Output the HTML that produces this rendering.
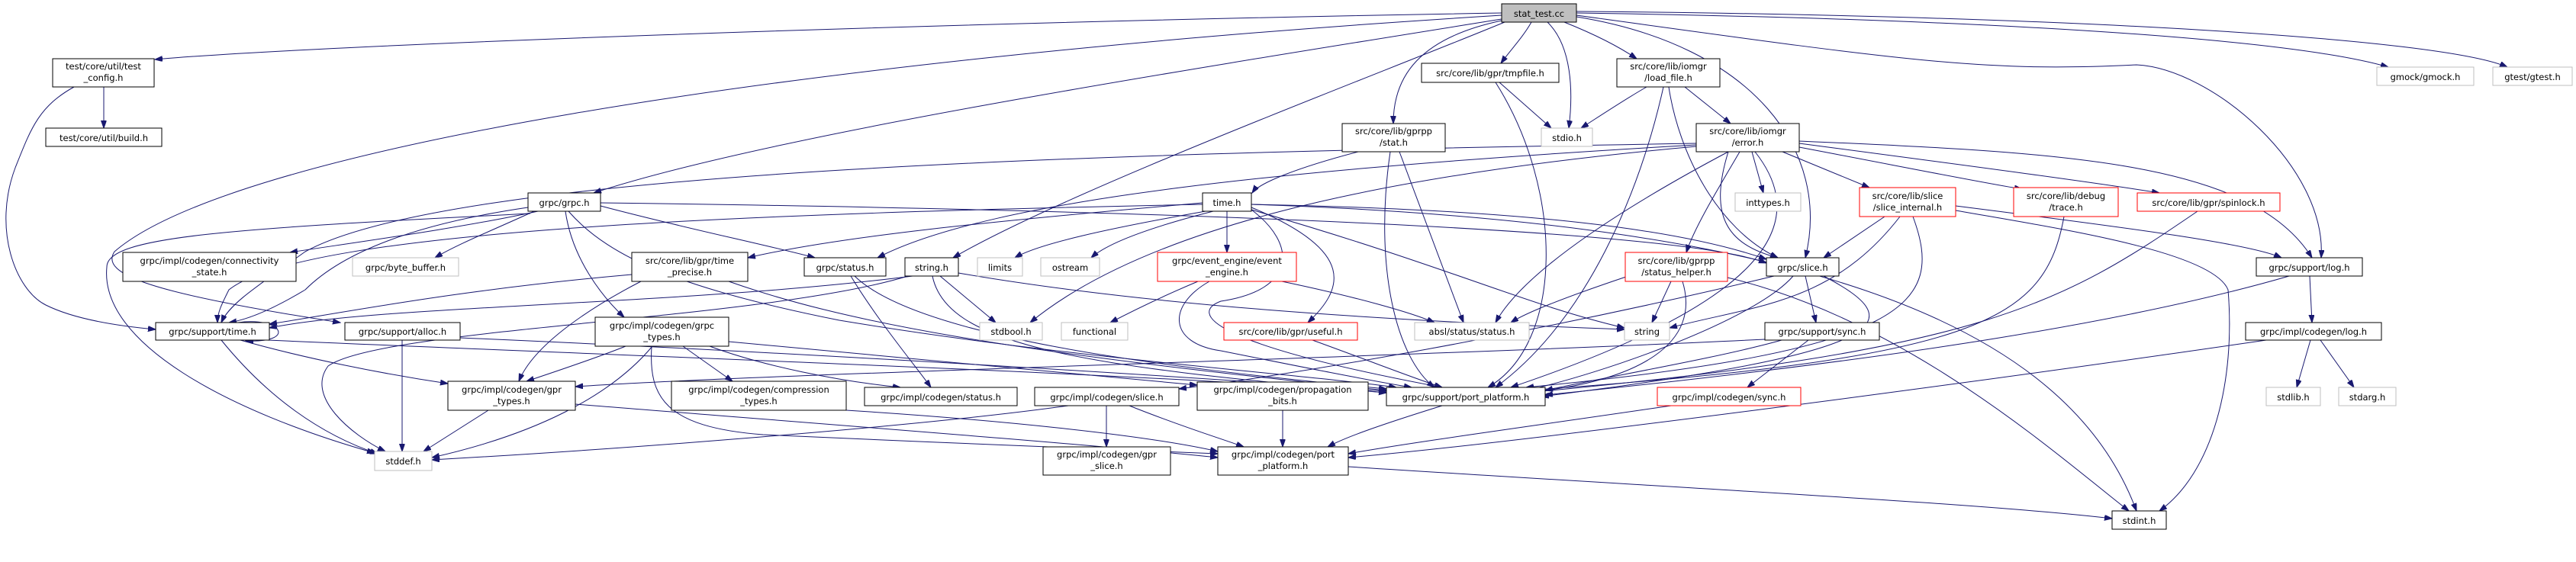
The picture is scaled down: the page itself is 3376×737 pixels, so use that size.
<!DOCTYPE html>
<html><head><meta charset="utf-8"><style>
html,body{margin:0;padding:0;background:#fff;}
svg{display:block;}
text{font-family:"DejaVu Sans","Liberation Sans",sans-serif;font-size:11.5px;fill:#000;text-anchor:middle;}
.n{fill:#fff;stroke:#000;stroke-width:1;}
.g{fill:#fff;stroke:#bfbfbf;stroke-width:1;}
.r{fill:#fff;stroke:#ff0000;stroke-width:1;}
.e{fill:none;stroke:#191970;stroke-width:1;marker-end:url(#a);}
</style></head><body>
<svg width="3376" height="737" viewBox="0 0 3376 737" xmlns="http://www.w3.org/2000/svg">
<defs><marker id="a" markerUnits="userSpaceOnUse" markerWidth="11" markerHeight="8" refX="10" refY="3.5" orient="auto"><path d="M0,0 L10,3.5 L0,7 Z" fill="#191970" stroke="#191970"/></marker></defs>
<g>
<path class="e" d="M1968,17 C1200,30 400,60 203,78"/>
<path class="e" d="M1968,25 C1500,100 1000,180 778,253"/>
<path class="e" d="M1972,29 C1800,100 1400,250 1249,338"/>
<path class="e" d="M1968,20 C1000,80 300,200 150,330 C130,360 200,385 446,423"/>
<path class="e" d="M2007,29 C1995,50 1980,65 1967,83"/>
<path class="e" d="M1968,27 C1860,50 1826,100 1826,162"/>
<path class="e" d="M2028,29 C2060,60 2062,120 2056,168"/>
<path class="e" d="M2050,29 C2090,45 2120,60 2145,77"/>
<path class="e" d="M2066,22 C2300,60 2400,200 2366,338"/>
<path class="e" d="M2066,20 C2500,80 2600,95 2800,85 C2900,90 3050,220 3042,338"/>
<path class="e" d="M2066,17 C2600,25 3000,50 3130,88"/>
<path class="e" d="M2066,15 C2700,20 3200,50 3286,88"/>
<path class="e" d="M136,114 L136,168"/>
<path class="e" d="M97,114 C50,140 40,170 20,220 C-10,300 20,380 60,400 C100,420 160,428 204,432"/>
<path class="e" d="M705,277 C600,300 450,320 380,331"/>
<path class="e" d="M700,277 C650,300 600,320 570,338"/>
<path class="e" d="M692,272 C500,300 430,350 400,380 C350,410 320,420 300,423"/>
<path class="e" d="M741,277 C750,340 790,390 818,416"/>
<path class="e" d="M787,270 C900,300 1000,320 1068,338"/>
<path class="e" d="M787,266 C1500,275 2200,300 2315,345"/>
<path class="e" d="M695,280 C300,300 140,310 140,350 C130,450 300,540 491,594"/>
<path class="e" d="M745,277 C800,340 900,380 1100,420 C1400,470 1700,490 1830,508"/>
<path class="e" d="M312,423 C370,415 390,450 322,447"/>
<path class="e" d="M290,446 C350,520 420,570 495,595"/>
<path class="e" d="M315,446 C400,470 500,490 587,503"/>
<path class="e" d="M350,446 C900,470 1500,490 1817,515"/>
<path class="e" d="M527,446 L527,592"/>
<path class="e" d="M603,443 C1000,460 1500,490 1817,513"/>
<path class="e" d="M640,538 L555,592"/>
<path class="e" d="M754,530 C1000,550 1400,580 1596,600"/>
<path class="e" d="M828,360 C600,380 450,410 353,425"/>
<path class="e" d="M840,369 C780,400 700,450 680,500"/>
<path class="e" d="M955,369 C1100,420 1300,460 1817,512"/>
<path class="e" d="M1115,362 C1150,420 1200,480 1220,508"/>
<path class="e" d="M1120,362 C1200,440 1500,480 1817,510"/>
<path class="e" d="M1232,362 L1305,423"/>
<path class="e" d="M1256,358 C1500,400 1800,420 2129,432"/>
<path class="e" d="M1222,362 C1240,450 1400,480 1817,515"/>
<path class="e" d="M1196,362 C900,400 500,400 353,430"/>
<path class="e" d="M1190,362 C1000,420 500,430 430,480 C400,520 460,570 505,592"/>
<path class="e" d="M820,454 C780,470 720,490 690,500"/>
<path class="e" d="M895,454 L960,500"/>
<path class="e" d="M930,454 C1000,480 1100,500 1180,508"/>
<path class="e" d="M855,454 C800,520 700,570 566,600"/>
<path class="e" d="M854,454 C850,520 870,560 1000,570 C1200,580 1500,590 1596,595"/>
<path class="e" d="M955,448 C1200,470 1400,490 1569,505"/>
<path class="e" d="M1109,538 C1300,550 1500,570 1596,592"/>
<path class="e" d="M1400,532 C1200,560 800,590 566,603"/>
<path class="e" d="M1450,532 L1450,586"/>
<path class="e" d="M1480,532 C1550,560 1600,575 1630,586"/>
<path class="e" d="M1681,538 L1681,586"/>
<path class="e" d="M1890,532 C1800,560 1760,575 1740,586"/>
<path class="e" d="M1767,612 C2200,640 2600,660 2768,680"/>
<path class="e" d="M1965,108 L2033,168"/>
<path class="e" d="M1960,108 C2050,250 2050,450 1950,508"/>
<path class="e" d="M1780,199 C1700,220 1650,240 1641,253"/>
<path class="e" d="M1834,199 L1918,423"/>
<path class="e" d="M1822,199 C1800,350 1830,470 1880,508"/>
<path class="e" d="M1576,266 C1300,290 1100,310 980,338"/>
<path class="e" d="M1576,268 C1000,280 400,300 300,380 C290,400 285,410 285,423"/>
<path class="e" d="M1580,277 C1450,300 1360,320 1330,338"/>
<path class="e" d="M1590,277 C1500,300 1450,320 1430,338"/>
<path class="e" d="M1608,277 L1608,331"/>
<path class="e" d="M1640,272 C1780,330 1760,380 1714,423"/>
<path class="e" d="M1640,275 C1900,350 2000,400 2129,430"/>
<path class="e" d="M1640,275 C1700,320 1700,380 1600,395 C1560,410 1580,450 1890,508"/>
<path class="e" d="M1640,268 C2300,290 2700,400 2800,670"/>
<path class="e" d="M1640,268 C2000,275 2200,300 2315,340"/>
<path class="e" d="M1570,369 C1520,390 1480,410 1455,423"/>
<path class="e" d="M1680,369 C1780,390 1850,410 1880,423"/>
<path class="e" d="M1585,369 C1530,400 1530,450 1600,460 C1700,480 1800,500 1850,508"/>
<path class="e" d="M1720,446 C1800,475 1850,495 1890,508"/>
<path class="e" d="M2158,114 C2130,130 2100,150 2072,168"/>
<path class="e" d="M2208,114 L2268,162"/>
<path class="e" d="M2187,114 C2200,200 2250,300 2330,338"/>
<path class="e" d="M2180,114 C2150,250 2080,420 1960,508"/>
<path class="e" d="M2296,199 L2311,253"/>
<path class="e" d="M2336,199 L2450,246"/>
<path class="e" d="M2358,193 C2500,220 2600,240 2650,248"/>
<path class="e" d="M2358,188 C2600,220 2750,240 2830,253"/>
<path class="e" d="M2280,199 C2250,250 2220,300 2210,331"/>
<path class="e" d="M2265,199 C2240,280 2260,320 2330,338"/>
<path class="e" d="M2358,185 C2700,200 2950,210 3030,338"/>
<path class="e" d="M2265,199 C2150,260 2000,350 1960,423"/>
<path class="e" d="M2223,190 C1700,220 1300,260 1150,338"/>
<path class="e" d="M2223,192 C1800,230 1500,300 1350,423"/>
<path class="e" d="M2300,199 C2380,300 2300,400 1980,508"/>
<path class="e" d="M2223,188 C1500,200 600,220 400,330 C330,380 300,400 290,423"/>
<path class="e" d="M2470,284 L2390,338"/>
<path class="e" d="M2490,284 C2400,400 2300,400 2188,430"/>
<path class="e" d="M2507,284 C2550,400 2500,460 2000,508"/>
<path class="e" d="M2563,270 C2800,300 2950,320 2990,338"/>
<path class="e" d="M2563,276 C2700,300 2900,330 2920,380 C2930,500 2900,620 2830,670"/>
<path class="e" d="M2705,284 C2680,420 2600,470 2000,512"/>
<path class="e" d="M2880,277 C2700,400 2600,460 2000,515"/>
<path class="e" d="M2190,369 L2165,423"/>
<path class="e" d="M2140,360 C2050,390 2000,410 1980,423"/>
<path class="e" d="M2205,369 C2230,450 2150,500 2000,515"/>
<path class="e" d="M2264,364 C2500,420 2700,600 2790,670"/>
<path class="e" d="M2366,362 L2380,423"/>
<path class="e" d="M2350,362 C2300,420 2100,490 2000,512"/>
<path class="e" d="M2390,362 C2500,420 2500,460 2020,520"/>
<path class="e" d="M2370,446 L2290,508"/>
<path class="e" d="M2335,446 C2250,470 2100,495 2025,512"/>
<path class="e" d="M2313,445 C1800,470 1000,490 754,507"/>
<path class="e" d="M2190,532 C2000,560 1850,580 1767,595"/>
<path class="e" d="M3027,362 L3030,423"/>
<path class="e" d="M3000,362 C2800,420 2500,470 2025,518"/>
<path class="e" d="M3028,446 L3010,508"/>
<path class="e" d="M3041,446 L3085,508"/>
<path class="e" d="M2970,446 C2600,500 2000,580 1767,600"/>
<path class="e" d="M2325,362 C2000,440 1700,490 1545,510"/>
</g>
<g>
<rect x="1968" y="5" width="98" height="24" fill="#bfbfbf" stroke="#000"/><text x="2017" y="22">stat_test.cc</text>
<rect class="n" x="69" y="77" width="133" height="37"/><text x="135.5" y="91">test/core/util/test</text><text x="135.5" y="106">_config.h</text>
<rect class="n" x="60" y="168" width="152" height="24"/><text x="136" y="185">test/core/util/build.h</text>
<rect class="n" x="692" y="253" width="95" height="24"/><text x="739.5" y="270">grpc/grpc.h</text>
<rect class="n" x="161" y="331" width="227" height="38"/><text x="274.5" y="346">grpc/impl/codegen/connectivity</text><text x="274.5" y="361">_state.h</text>
<rect class="g" x="462" y="338" width="139" height="24"/><text x="531.5" y="355">grpc/byte_buffer.h</text>
<rect class="n" x="204" y="423" width="149" height="23"/><text x="278.5" y="439">grpc/support/time.h</text>
<rect class="n" x="452" y="423" width="151" height="23"/><text x="527.5" y="439">grpc/support/alloc.h</text>
<rect class="n" x="587" y="500" width="167" height="38"/><text x="670.5" y="515">grpc/impl/codegen/gpr</text><text x="670.5" y="530">_types.h</text>
<rect class="g" x="491" y="592" width="75" height="25"/><text x="528.5" y="609">stddef.h</text>
<rect class="n" x="828" y="331" width="152" height="38"/><text x="904" y="346">src/core/lib/gpr/time</text><text x="904" y="361">_precise.h</text>
<rect class="n" x="1054" y="338" width="107" height="24"/><text x="1107.5" y="355">grpc/status.h</text>
<rect class="n" x="1186" y="338" width="70" height="24"/><text x="1221" y="355">string.h</text>
<rect class="g" x="1281" y="338" width="59" height="24"/><text x="1310.5" y="355">limits</text>
<rect class="g" x="1364" y="338" width="77" height="24"/><text x="1402.5" y="355">ostream</text>
<rect class="n" x="780" y="416" width="175" height="38"/><text x="867.5" y="431">grpc/impl/codegen/grpc</text><text x="867.5" y="446">_types.h</text>
<rect class="g" x="1284" y="423" width="82" height="23"/><text x="1325" y="439">stdbool.h</text>
<rect class="g" x="1391" y="423" width="87" height="23"/><text x="1434.5" y="439">functional</text>
<rect class="n" x="880" y="500" width="229" height="38"/><text x="994.5" y="515">grpc/impl/codegen/compression</text><text x="994.5" y="530">_types.h</text>
<rect class="n" x="1133" y="508" width="200" height="24"/><text x="1233" y="525">grpc/impl/codegen/status.h</text>
<rect class="n" x="1356" y="508" width="189" height="24"/><text x="1450.5" y="525">grpc/impl/codegen/slice.h</text>
<rect class="n" x="1367" y="586" width="167" height="37"/><text x="1450.5" y="600">grpc/impl/codegen/gpr</text><text x="1450.5" y="615">_slice.h</text>
<rect class="n" x="1863" y="83" width="180" height="25"/><text x="1953" y="100">src/core/lib/gpr/tmpfile.h</text>
<rect class="n" x="1759" y="162" width="135" height="37"/><text x="1826.5" y="176">src/core/lib/gprpp</text><text x="1826.5" y="191">/stat.h</text>
<rect class="g" x="2020" y="168" width="67" height="24"/><text x="2053.5" y="185">stdio.h</text>
<rect class="n" x="1576" y="253" width="64" height="24"/><text x="1608" y="270">time.h</text>
<rect class="r" x="1517" y="331" width="182" height="38"/><text x="1608" y="346">grpc/event_engine/event</text><text x="1608" y="361">_engine.h</text>
<rect class="r" x="1604" y="423" width="175" height="23"/><text x="1691.5" y="439">src/core/lib/gpr/useful.h</text>
<rect class="g" x="1854" y="423" width="150" height="23"/><text x="1929" y="439">absl/status/status.h</text>
<rect class="n" x="1569" y="501" width="224" height="37"/><text x="1681" y="515">grpc/impl/codegen/propagation</text><text x="1681" y="530">_bits.h</text>
<rect class="n" x="1817" y="508" width="208" height="24"/><text x="1921" y="525">grpc/support/port_platform.h</text>
<rect class="n" x="1596" y="586" width="171" height="37"/><text x="1681.5" y="600">grpc/impl/codegen/port</text><text x="1681.5" y="615">_platform.h</text>
<rect class="n" x="2119" y="77" width="135" height="37"/><text x="2186.5" y="91">src/core/lib/iomgr</text><text x="2186.5" y="106">/load_file.h</text>
<rect class="n" x="2223" y="162" width="135" height="37"/><text x="2290.5" y="176">src/core/lib/iomgr</text><text x="2290.5" y="191">/error.h</text>
<rect class="g" x="2274" y="253" width="86" height="24"/><text x="2317" y="270">inttypes.h</text>
<rect class="r" x="2437" y="246" width="126" height="38"/><text x="2500" y="261">src/core/lib/slice</text><text x="2500" y="276">/slice_internal.h</text>
<rect class="r" x="2639" y="246" width="137" height="38"/><text x="2707.5" y="261">src/core/lib/debug</text><text x="2707.5" y="276">/trace.h</text>
<rect class="r" x="2130" y="331" width="134" height="38"/><text x="2197" y="346">src/core/lib/gprpp</text><text x="2197" y="361">/status_helper.h</text>
<rect class="n" x="2315" y="338" width="95" height="24"/><text x="2362.5" y="355">grpc/slice.h</text>
<rect class="g" x="2129" y="423" width="59" height="23"/><text x="2158.5" y="439">string</text>
<rect class="n" x="2313" y="423" width="150" height="23"/><text x="2388" y="439">grpc/support/sync.h</text>
<rect class="r" x="2172" y="508" width="188" height="24"/><text x="2266" y="525">grpc/impl/codegen/sync.h</text>
<rect class="n" x="2768" y="670" width="71" height="24"/><text x="2803.5" y="687">stdint.h</text>
<rect class="r" x="2801" y="253" width="187" height="24"/><text x="2894.5" y="270">src/core/lib/gpr/spinlock.h</text>
<rect class="n" x="2957" y="338" width="139" height="24"/><text x="3026.5" y="355">grpc/support/log.h</text>
<rect class="n" x="2943" y="423" width="178" height="23"/><text x="3032" y="439">grpc/impl/codegen/log.h</text>
<rect class="g" x="2970" y="508" width="71" height="24"/><text x="3005.5" y="525">stdlib.h</text>
<rect class="g" x="3065" y="508" width="75" height="24"/><text x="3102.5" y="525">stdarg.h</text>
<rect class="g" x="3115" y="88" width="127" height="24"/><text x="3178.5" y="105">gmock/gmock.h</text>
<rect class="g" x="3267" y="88" width="104" height="24"/><text x="3319" y="105">gtest/gtest.h</text>
</g>
</svg>
</body></html>
